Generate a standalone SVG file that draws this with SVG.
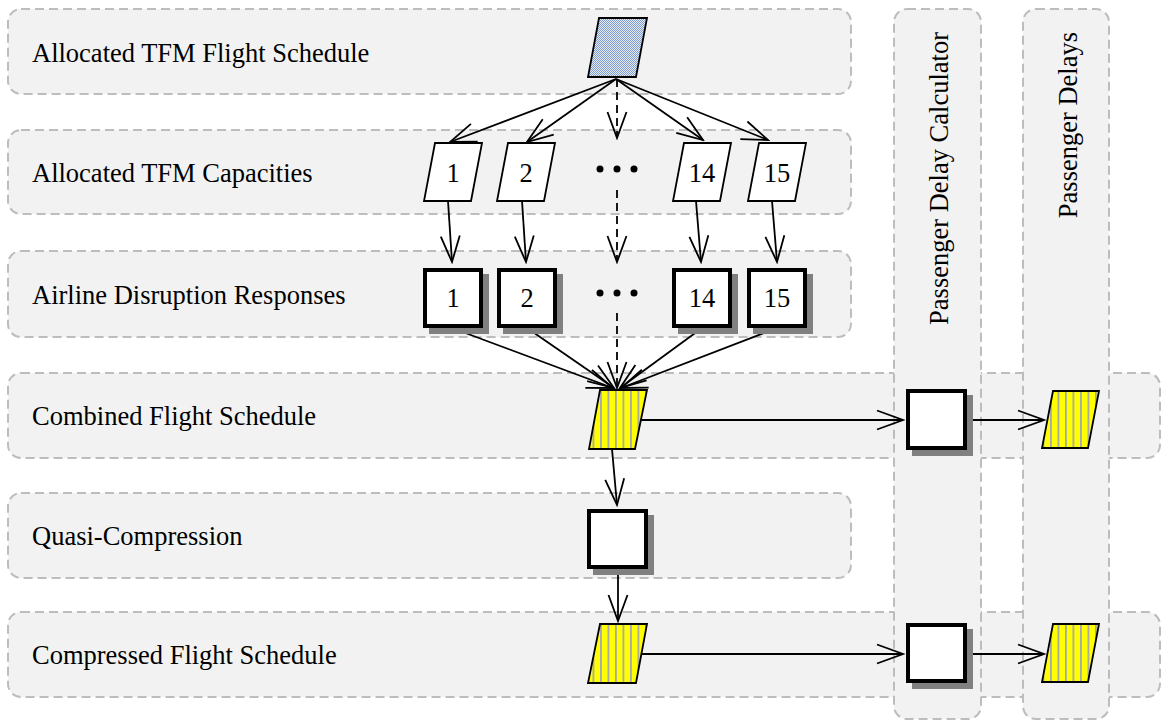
<svg xmlns="http://www.w3.org/2000/svg" width="1162" height="724" viewBox="0 0 1162 724">
<style>
.lane{fill:#f2f2f2;stroke:#bdbdbd;stroke-width:2;stroke-dasharray:9 5}
.lbl{font-family:"Liberation Serif","Times New Roman",serif;font-size:26.5px;fill:#000}
.num{font-family:"Liberation Serif","Times New Roman",serif;font-size:26.5px;fill:#000;text-anchor:middle}
.para{fill:#fff;stroke:#000;stroke-width:1.8}
.blue{fill:url(#checker);stroke:#000;stroke-width:1.8}
.yel{fill:url(#stripes);stroke:#000;stroke-width:1.8}
.box{fill:#fff;stroke:#000;stroke-width:4}
.shadow{fill:#808080}
.conn{fill:none;stroke:#000;stroke-width:1.8;marker-end:url(#arr)}
.dash{stroke-dasharray:8 5}
</style>
<defs>
<pattern id="checker" patternUnits="userSpaceOnUse" width="2" height="2">
<rect width="2" height="2" fill="#e6ecf6"/>
<rect width="1" height="1" fill="#7f9bcc"/>
<rect x="1" y="1" width="1" height="1" fill="#7f9bcc"/>
</pattern>
<pattern id="stripes" patternUnits="userSpaceOnUse" width="7.5" height="10">
<rect width="7.5" height="10" fill="#ffff00"/>
<rect x="0" width="1.8" height="10" fill="#a8a8a8"/>
</pattern>
<marker id="arr" markerUnits="userSpaceOnUse" viewBox="-29 -12 31 24" refX="0" refY="0" markerWidth="31" markerHeight="24" orient="auto">
<path d="M-26,-9.5 L0,0 L-26,9.5" fill="none" stroke="#000" stroke-width="1.8"/>
</marker>
</defs>

<g id="lanes">
<g id="lane-allocated-schedule"><rect class="lane" x="8" y="9" width="843" height="85" rx="13"/><text class="lbl" x="32" y="62">Allocated TFM Flight Schedule</text></g>
<g id="lane-capacities"><rect class="lane" x="8" y="130" width="843" height="84" rx="13"/><text class="lbl" x="32" y="182">Allocated TFM Capacities</text></g>
<g id="lane-responses"><rect class="lane" x="8" y="251" width="843" height="86" rx="13"/><text class="lbl" x="32" y="304">Airline Disruption Responses</text></g>
<g id="lane-combined"><rect class="lane" x="8" y="373" width="1152" height="85" rx="13"/><text class="lbl" x="32" y="425">Combined Flight Schedule</text></g>
<g id="lane-quasi"><rect class="lane" x="8" y="493" width="843" height="85" rx="13"/><text class="lbl" x="32" y="545">Quasi-Compression</text></g>
<g id="lane-compressed"><rect class="lane" x="8" y="612" width="1152" height="85" rx="13"/><text class="lbl" x="32" y="664">Compressed Flight Schedule</text></g>
<g id="lane-calculator"><rect class="lane" x="894" y="9" width="87" height="710" rx="13"/><text class="lbl" x="948" y="32" text-anchor="end" transform="rotate(-90 948 32)">Passenger Delay Calculator</text></g>
<g id="lane-delays"><rect class="lane" x="1023" y="9" width="86" height="710" rx="13"/><text class="lbl" x="1077" y="32" text-anchor="end" transform="rotate(-90 1077 32)">Passenger Delays</text></g>
</g>

<g id="connectors">
<line class="conn" x1="616" y1="79" x2="450" y2="142"/>
<line class="conn" x1="616" y1="79" x2="527" y2="142"/>
<line class="conn dash" x1="617" y1="79" x2="617" y2="138"/>
<line class="conn" x1="616" y1="79" x2="703" y2="140"/>
<line class="conn" x1="616" y1="79" x2="768" y2="140"/>
<line class="conn" x1="448" y1="201" x2="452" y2="262"/>
<line class="conn" x1="522" y1="201" x2="526" y2="262"/>
<line class="conn dash" x1="617" y1="190" x2="617" y2="262"/>
<line class="conn" x1="696" y1="201" x2="701" y2="262"/>
<line class="conn" x1="772" y1="201" x2="777" y2="262"/>
<line class="conn" x1="452" y1="328" x2="613" y2="388"/>
<line class="conn" x1="527" y1="328" x2="614" y2="388"/>
<line class="conn dash" x1="617" y1="313" x2="617" y2="388"/>
<line class="conn" x1="702" y1="328" x2="620" y2="388"/>
<line class="conn" x1="777" y1="328" x2="621" y2="388"/>
<line class="conn" x1="641" y1="420" x2="903" y2="420"/>
<line class="conn" x1="967" y1="420" x2="1044" y2="420"/>
<line class="conn" x1="612" y1="449" x2="617" y2="505"/>
<line class="conn" x1="618" y1="569" x2="618" y2="621"/>
<line class="conn" x1="641" y1="654" x2="903" y2="654"/>
<line class="conn" x1="967" y1="654" x2="1044" y2="654"/>
</g>

<g id="schedule"><polygon class="blue" points="599,18 647,18 636,77 588,77"/></g>

<g id="cap1"><polygon class="para" points="435,143 482,143 471,201 424,201"/><text class="num" x="453" y="182">1</text></g>
<g id="cap2"><polygon class="para" points="508,143 555,143 544,201 497,201"/><text class="num" x="526" y="182">2</text></g>
<g id="cap-dots"><circle cx="600" cy="169" r="3.5"/><circle cx="617" cy="169" r="3.5"/><circle cx="634" cy="169" r="3.5"/></g>
<g id="cap14"><polygon class="para" points="684,143 731,143 720,201 673,201"/><text class="num" x="702" y="182">14</text></g>
<g id="cap15"><polygon class="para" points="759,143 806,143 795,201 748,201"/><text class="num" x="777" y="182">15</text></g>

<g id="resp1"><rect class="shadow" x="429" y="274" width="60" height="60"/><rect class="box" x="425" y="270" width="56" height="56"/><text class="num" x="453" y="307">1</text></g>
<g id="resp2"><rect class="shadow" x="503" y="274" width="60" height="60"/><rect class="box" x="499" y="270" width="56" height="56"/><text class="num" x="527" y="307">2</text></g>
<g id="resp-dots"><circle cx="600" cy="293" r="3.5"/><circle cx="617" cy="293" r="3.5"/><circle cx="634" cy="293" r="3.5"/></g>
<g id="resp14"><rect class="shadow" x="678" y="274" width="60" height="60"/><rect class="box" x="674" y="270" width="56" height="56"/><text class="num" x="702" y="307">14</text></g>
<g id="resp15"><rect class="shadow" x="753" y="274" width="60" height="60"/><rect class="box" x="749" y="270" width="56" height="56"/><text class="num" x="777" y="307">15</text></g>

<g id="combined"><polygon class="yel" points="600,390 647,390 635,449 589,449"/></g>
<g id="calc1"><rect class="shadow" x="912" y="395" width="61" height="61"/><rect class="box" x="908" y="391" width="57" height="57"/></g>
<g id="delays1"><polygon class="yel" points="1053,391 1099,391 1088,448 1042,448"/></g>

<g id="quasi"><rect class="shadow" x="593" y="515" width="61" height="60"/><rect class="box" x="589" y="511" width="57" height="56"/></g>

<g id="compressed"><polygon class="yel" points="600,624 647,624 636,683 588,683"/></g>
<g id="calc2"><rect class="shadow" x="912" y="629" width="61" height="60"/><rect class="box" x="908" y="625" width="57" height="56"/></g>
<g id="delays2"><polygon class="yel" points="1053,624 1099,624 1088,682 1042,682"/></g>
</svg>
